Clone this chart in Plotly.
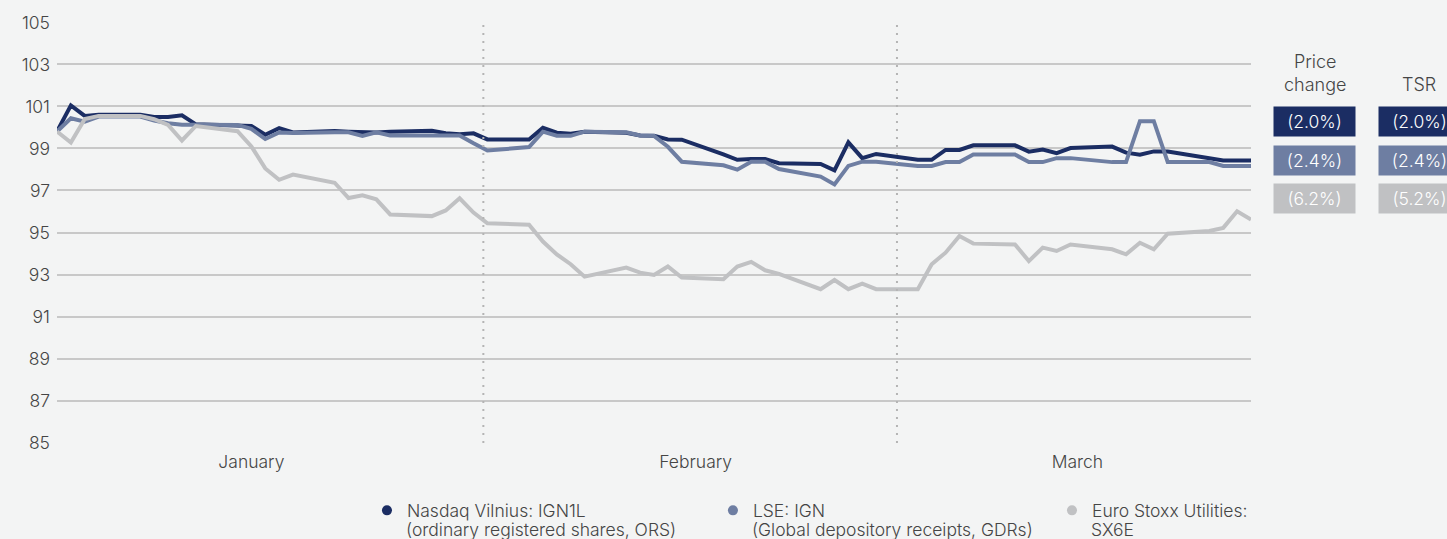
import plotly.graph_objects as go
import pandas as pd

# ---- data ----
dates = pd.bdate_range("2024-01-02", "2024-03-28")

nasdaq = [99.81, 101.05, 100.55, 100.60, 100.60, 100.50, 100.50, 100.58, 100.15, 100.12,
          100.07, 99.65, 99.97, 99.76, 99.83, 99.80, 99.77, 99.76, 99.79, 99.84,
          99.73, 99.68,
          99.72, 99.43, 99.43, 99.98, 99.75, 99.70, 99.79, 99.75, 99.62, 99.60,
          99.43, 99.42, 98.72, 98.46, 98.50, 98.50, 98.30, 98.26, 97.96, 99.29,
          98.54,
          98.74, 98.46, 98.46, 98.93, 98.93, 99.15, 99.15, 98.85, 98.95, 98.78,
          99.02, 99.09, 98.80, 98.70, 98.86, 98.85, 98.56, 98.43, 98.43, 98.43]

lse = [99.81, 100.44, 100.28, 100.52, 100.52, 100.33, 100.20, 100.13, 100.13, 100.12,
       99.93, 99.45, 99.76, 99.74, 99.77, 99.77, 99.60, 99.77, 99.62, 99.62,
       99.62, 99.62,
       99.25, 98.90, 99.07, 99.80, 99.61, 99.60, 99.80, 99.77, 99.62, 99.60,
       99.08, 98.37, 98.20, 97.99, 98.37, 98.37, 98.02, 97.66, 97.29, 98.17,
       98.37,
       98.37, 98.17, 98.17, 98.35, 98.35, 98.71, 98.71, 98.35, 98.35, 98.54,
       98.54, 98.35, 98.35, 100.30, 100.30, 98.35, 98.35, 98.17, 98.17, 98.17]

stoxx = [99.81, 99.28, 100.40, 100.55, 100.55, 100.39, 100.12, 99.38, 100.07, 99.82,
         99.10, 98.05, 97.51, 97.76, 97.37, 96.64, 96.77, 96.58, 95.86, 95.78,
         96.05, 96.63,
         95.95, 95.44, 95.37, 94.57, 93.96, 93.49, 92.90, 93.33, 93.09, 92.98,
         93.38, 92.86, 92.78, 93.38, 93.60, 93.20, 93.03, 92.30, 92.74, 92.30,
         92.57,
         92.30, 92.30, 93.49, 94.04, 94.83, 94.47, 94.43, 93.64, 94.28, 94.12,
         94.43, 94.20, 93.96, 94.51, 94.20, 94.94, 95.07, 95.22, 96.01, 95.62]

series_names = ["Nasdaq Vilnius: IGN1L", "LSE: IGN", "Euro Stoxx Utilities:"]
series_subnames = ["(ordinary registered shares, ORS)",
                   "(Global depository receipts, GDRs)",
                   "SX6E"]
series_values = [nasdaq, lse, stoxx]
colors = ["#1b2d63", "#6e7ea2", "#c0c1c3"]

price_change = ["(2.0%)", "(2.4%)", "(6.2%)"]
tsr = ["(2.0%)", "(2.4%)", "(5.2%)"]

y_ticks = [85, 87, 89, 91, 93, 95, 97, 99, 101, 103, 105]
month_labels = ["January", "February", "March"]
month_label_dates = ["2024-01-16", "2024-02-17", "2024-03-15 12:00"]
divider_dates = ["2024-02-01 17:00", "2024-03-02 12:00"]

BG = "#f3f4f4"
TXT = "#454545"
FONT = "Inter"
W = 300

fig = go.Figure()

for name, vals, col in zip(series_names, series_values, colors):
    fig.add_trace(go.Scatter(x=dates, y=vals, mode="lines", name=name,
                             line=dict(color=col, width=4), showlegend=False,
                             hoverinfo="skip"))

# legend entries (one legend per item so each can be placed like the original)
legend_ids = ["legend", "legend2", "legend3"]
legend_x = [0.2536, 0.4927, 0.7270]
for name, col, lid in zip(series_names, colors, legend_ids):
    fig.add_trace(go.Scatter(x=[None], y=[None], mode="markers", name=name,
                             marker=dict(color=col, size=10, symbol="circle"),
                             showlegend=True, legend=lid))

for d in divider_dates:
    fig.add_vline(x=pd.Timestamp(d).value / 1e6,
                  line=dict(color="#b4b4b4", width=2, dash="2px,6px"))

ann = []
# second line of each legend entry (tighter leading than a legend allows)
sub_x = [0.2906, 0.5804, 0.8643]
for sx, sub in zip(sub_x, series_subnames):
    ann.append(dict(text=sub, x=sx, y=-0.2043, xref="paper", yref="paper",
                    showarrow=False, xanchor="left", yanchor="middle",
                    font=dict(family=FONT, size=17.5, color=TXT, weight=W)))

# right-hand table
ann.append(dict(text="Price<br>change", x=1.0532, y=0.8777, xref="paper", yref="paper",
                showarrow=False, font=dict(family=FONT, size=18, color=TXT, weight=W),
                xanchor="center", yanchor="middle"))
ann.append(dict(text="TSR", x=1.1411, y=0.8527, xref="paper", yref="paper",
                showarrow=False, font=dict(family=FONT, size=18, color=TXT, weight=W),
                xanchor="center", yanchor="middle"))
row_y = [0.7648, 0.671, 0.5808]
for ry, pc, ts, col in zip(row_y, price_change, tsr, colors):
    for cx, txt in ((1.0532, pc), (1.1411, ts)):
        ann.append(dict(text=txt, x=cx, y=ry, xref="paper", yref="paper",
                        showarrow=False, width=81, height=29, borderpad=0,
                        bgcolor=col, font=dict(family=FONT, size=17.5, color="white", weight=W),
                        xanchor="center", yanchor="middle"))

legend_common = dict(orientation="h", xref="container", yref="container",
                     y=0.0863, yanchor="top", xanchor="left",
                     font=dict(family=FONT, size=17.5, color=TXT, weight=W),
                     bgcolor="rgba(0,0,0,0)")

fig.update_layout(
    width=1447, height=539,
    margin=dict(l=57, r=196, t=22, b=96),
    paper_bgcolor=BG, plot_bgcolor=BG,
    font=dict(family=FONT, color=TXT, size=17, weight=W),
    annotations=ann,
    legend=dict(x=legend_x[0], **legend_common),
    legend2=dict(x=legend_x[1], **legend_common),
    legend3=dict(x=legend_x[2], **legend_common),
    xaxis=dict(type="date", range=[dates[0], dates[-1]], showgrid=False, zeroline=False,
               showline=False, tickvals=month_label_dates, ticktext=month_labels,
               ticks="", ticklabelstandoff=6,
               tickfont=dict(family=FONT, size=17.5, color=TXT, weight=W)),
    yaxis=dict(range=[84.98, 105.02], tickvals=y_ticks, showgrid=True,
               gridcolor="#c8c8c8", gridwidth=1.5, zeroline=False, showline=False,
               ticks="", ticklabelstandoff=6,
               tickfont=dict(family=FONT, size=17.5, color=TXT, weight=W)),
    showlegend=True,
)

fig.write_html("out.html", config={"displayModeBar": False},
               post_script="document.body.style.margin='0';")
